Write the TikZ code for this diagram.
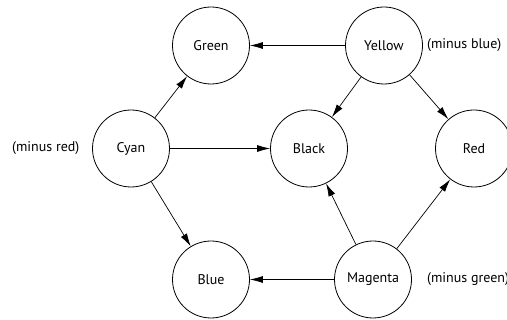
\documentclass[tikz,border=0pt]{standalone}
\usepackage{fontspec}
\setmainfont{PT Sans}
\usetikzlibrary{arrows.meta}
\begin{document}
\begin{tikzpicture}[x=1pt,y=-1pt,
  colnode/.style={circle,draw,line width=0.8pt,minimum size=77pt,inner sep=0pt,font=\fontsize{14}{16}\selectfont},
  note/.style={anchor=west,inner sep=0pt,font=\fontsize{14}{16}\selectfont},
  link/.style={line width=0.7pt,-{Latex[length=13pt,width=7pt]}}]
\useasboundingbox (0,0) rectangle (507,320);
\node[colnode] (green) at (211,45.5) {Green};
\node[colnode] (yellow) at (384,45.5) {Yellow};
\node[colnode] (cyan) at (131,148.5) {Cyan};
\node[colnode] (black) at (309,148.5) {Black};
\node[colnode] (red) at (474,148.5) {Red};
\node[colnode] (blue) at (211,279.5) {Blue};
\node[colnode] (magenta) at (373,279.5) {Magenta};
\node[note] (nb) at (427,45.5) {(minus blue)};
\node[note] (nr) at (12,148.5) {(minus red)};
\node[note] (ng) at (427,279.5) {(minus green)};
\draw[link] (yellow) -- (green);
\draw[link] (yellow) -- (black);
\draw[link] (yellow) -- (red);
\draw[link] (cyan) -- (green);
\draw[link] (cyan) -- (black);
\draw[link] (cyan) -- (blue);
\draw[link] (magenta) -- (blue);
\draw[link] (magenta) -- (black);
\draw[link] (magenta) -- (red);
\end{tikzpicture}
\end{document}
